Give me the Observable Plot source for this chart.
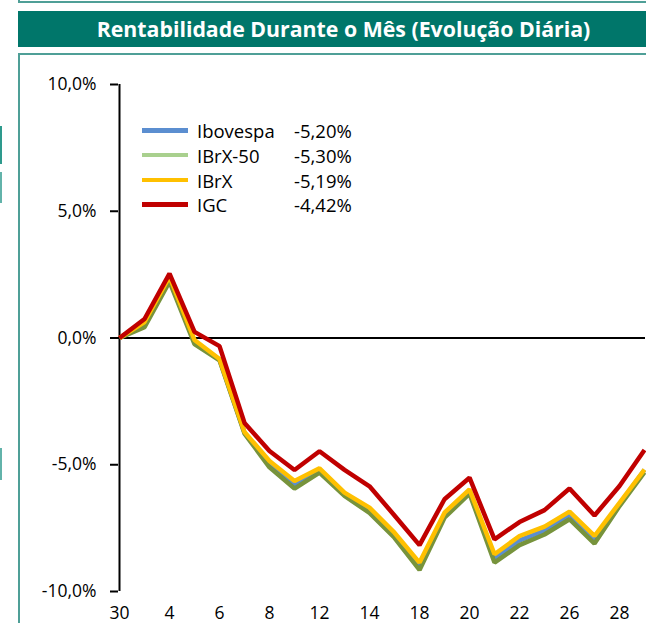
<!DOCTYPE html>
<html><head><meta charset="utf-8">
<script src="https://cdn.jsdelivr.net/npm/d3@7"></script>
<script src="https://cdn.jsdelivr.net/npm/@observablehq/plot@0.6"></script>
<style>
html,body{margin:0;padding:0;overflow:hidden;background:#fff;}
#page{position:relative;width:646px;height:623px;overflow:hidden;font-family:"Open Sans",sans-serif;color:#000;}
.abs{position:absolute;}
#topbox{left:18px;top:-20px;width:700px;height:21px;border-left:2px solid #4f9f97;border-bottom:2px solid #4f9f97;}
#title{left:18px;top:11px;width:651px;height:36px;background:#00766A;color:#fff;font-weight:700;font-size:21.3px;line-height:36px;text-align:center;white-space:nowrap;}
#box{left:18px;top:53px;width:700px;height:700px;border-left:2px solid #4f9f97;border-top:2px solid #4f9f97;}
.frag{left:0;width:2px;}
#chart{left:0;top:54px;width:660px;height:569px;}
#chart svg{max-width:none !important;}
.lg-row{position:absolute;height:25px;line-height:25px;font-size:18.5px;white-space:nowrap;}
.lg-sw{position:absolute;left:142px;width:46px;height:4.5px;}
</style></head><body>
<div id="page">
  <div id="topbox" class="abs"></div>
  <div class="abs frag" style="top:126px;height:38px;background:#2e9a8d"></div>
  <div class="abs frag" style="top:172px;height:31px;background:#62b3aa"></div>
  <div class="abs frag" style="top:448px;height:32px;background:#62b3aa"></div>
  <div id="title" class="abs">Rentabilidade Durante o Mês (Evolução Diária)</div>
  <div id="box" class="abs"></div>
  <div id="chart" class="abs"></div>
  <div id="legend"></div>
</div>
<script>
const days = ["30","1","4","5","6","7","8","11","12","13","14","15","18","19","20","21","22","25","26","27","28","29"];
const seriesNames = ["Ibovespa","IBrX-50","IBrX","IGC"];
const monthReturns = ["-5,20%","-5,30%","-5,19%","-4,42%"];
const lineColors = ["#5B8ED0","#77933C","#FFC000","#C00000"];
const legendColors = ["#5B8ED0","#A9D08E","#FFC000","#C00000"];

const ibovespa = [0, 0.55, 2.30, -0.15, -0.85, -3.74, -4.98, -5.78, -5.22, -6.15, -6.80, -7.80, -9.00, -7.00, -6.05, -8.70, -7.98, -7.60, -6.98, -7.95, -6.56, -5.20];
const ibrx50   = [0, 0.43, 2.22, -0.24, -0.88, -3.77, -5.10, -5.94, -5.31, -6.23, -6.90, -7.88, -9.15, -7.09, -6.14, -8.86, -8.17, -7.75, -7.15, -8.11, -6.63, -5.30];
const ibrx     = [0, 0.63, 2.42, -0.08, -0.83, -3.71, -4.85, -5.64, -5.14, -6.10, -6.69, -7.68, -8.86, -6.89, -5.97, -8.53, -7.81, -7.44, -6.85, -7.81, -6.50, -5.19];
const igc      = [0, 0.75, 2.54, 0.24, -0.32, -3.35, -4.46, -5.21, -4.47, -5.20, -5.85, -7.00, -8.17, -6.36, -5.51, -7.94, -7.26, -6.79, -5.94, -7.00, -5.84, -4.42];

const yTicks = [-10, -5, 0, 5, 10];
const xTickLabels = days.filter((d, i) => i % 2 === 0);

const allSeries = [ibovespa, ibrx50, ibrx, igc];
const data = [];
allSeries.forEach((vals, s) => vals.forEach((v, i) => data.push({day: days[i], value: v, series: seriesNames[s]})));

const fmt = d => d.toFixed(1).replace(".", ",") + "%";

const chart = Plot.plot({
  width: 660, height: 569,
  marginLeft: 118, marginRight: 15, marginTop: 30, marginBottom: 32,
  style: {fontFamily: '"Open Sans", sans-serif', fontSize: "17.5px", color: "#000", background: "transparent", overflow: "visible", maxWidth: "none"},
  x: {type: "point", domain: days, padding: 0},
  y: {domain: [-10, 10]},
  color: {domain: seriesNames, range: lineColors},
  marks: [
    Plot.axisY({ticks: yTicks, tickSize: 8, tickPadding: 14, tickFormat: fmt, strokeWidth: 2, label: null}),
    Plot.axisX({ticks: xTickLabels, tickSize: 0, tickPadding: 15, label: null}),
    Plot.ruleX([days[0]], {stroke: "#000", strokeWidth: 2}),
    Plot.ruleY([0], {stroke: "#000", strokeWidth: 2}),
    Plot.line(data, {x: "day", y: "value", z: "series", stroke: "series", strokeWidth: 4.5, strokeLinejoin: "miter", strokeLinecap: "butt"})
  ]
});
document.getElementById("chart").appendChild(chart);

const legend = document.getElementById("legend");
const rowY = [130.5, 155, 180, 204.5];
seriesNames.forEach((name, i) => {
  const sw = document.createElement("div");
  sw.className = "lg-sw";
  sw.style.top = (rowY[i] - 2.25) + "px";
  sw.style.background = legendColors[i];
  legend.appendChild(sw);
  const nm = document.createElement("div");
  nm.className = "lg-row";
  nm.style.left = "197px";
  nm.style.top = (rowY[i] - 12.5) + "px";
  nm.textContent = name;
  legend.appendChild(nm);
  const val = document.createElement("div");
  val.className = "lg-row";
  val.style.left = "294px";
  val.style.top = (rowY[i] - 12.5) + "px";
  val.textContent = monthReturns[i];
  legend.appendChild(val);
});
</script>
</body></html>
